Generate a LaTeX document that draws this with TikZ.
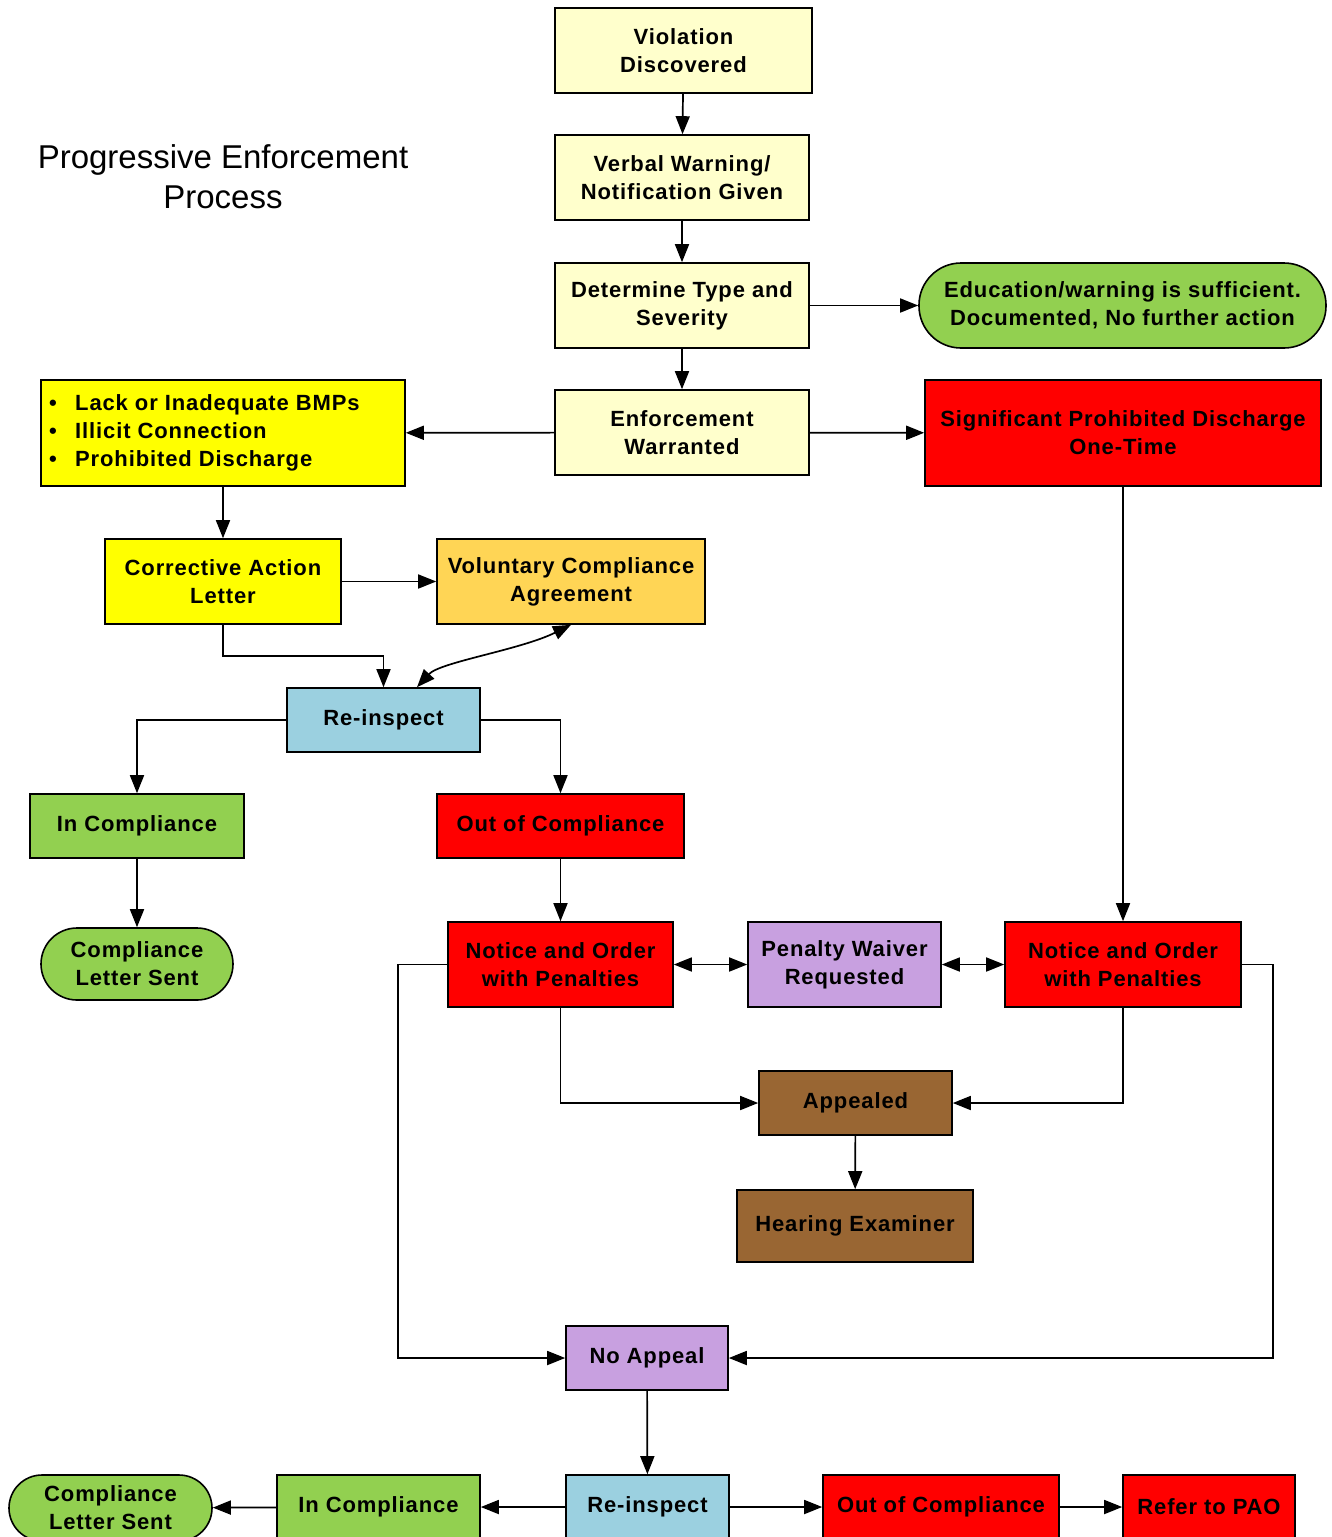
\documentclass[tikz,border=0pt]{standalone}
\usepackage{fontspec}
\setmainfont{Liberation Sans}
\usetikzlibrary{arrows.meta}
\definecolor{lyel}{HTML}{FFFFCC}
\definecolor{yel}{HTML}{FFFF00}
\definecolor{grn}{HTML}{92D050}
\definecolor{rd}{HTML}{FF0000}
\definecolor{org}{HTML}{FFD555}
\definecolor{blu}{HTML}{9BD0E0}
\definecolor{prp}{HTML}{C8A0E0}
\definecolor{brn}{HTML}{996633}
\newcommand\boxfont{\fontsize{22}{28}\selectfont\bfseries\addfontfeature{LetterSpace=4}}
\begin{document}
\begin{tikzpicture}[x=1pt,y=-1pt,
  box/.style={draw=black,line width=1.6pt,inner sep=0pt,align=center,font=\boxfont,text=black},
  stad/.style={box,rounded corners=#1},
  conn/.style={line width=1.7pt,draw=black},
  >={Triangle[length=18pt,width=14pt]}]
\clip (0,0) rectangle (1331,1537);
\useasboundingbox (0,0) rectangle (1331,1537);

\node[align=center,font=\fontsize{33}{40}\selectfont] (title) at (223,177) {Progressive Enforcement\\Process};

\node[box,fill=lyel,minimum width=257pt,minimum height=85pt] (v) at (683.5,50.5) {Violation\\Discovered};
\node[box,fill=lyel,minimum width=254pt,minimum height=85pt] (vw) at (682,177.5) {Verbal Warning/\\Notification Given};
\node[box,fill=lyel,minimum width=254pt,minimum height=85pt] (dt) at (682,305.5) {Determine Type and\\Severity};
\node[stad=42pt,fill=grn,minimum width=407pt,minimum height=85pt] (ed) at (1122.5,305.5) {Education/warning is sufficient.\\Documented, No further action};
\node[box,fill=lyel,minimum width=254pt,minimum height=85pt] (ew) at (682,432.5) {Enforcement\\Warranted};
\node[box,fill=yel,minimum width=364pt,minimum height=106pt] (lk) at (223,433) {};
\node[font=\boxfont,align=left,anchor=west,inner sep=0pt] (lkt) at (49,433) {\makebox[26pt][l]{•}Lack or Inadequate BMPs\\\makebox[26pt][l]{•}Illicit Connection\\\makebox[26pt][l]{•}Prohibited Discharge};
\node[box,fill=rd,minimum width=396pt,minimum height=106pt] (sg) at (1123,433) {Significant Prohibited Discharge\\One-Time};
\node[box,fill=yel,minimum width=236pt,minimum height=85pt] (ca) at (223,581.5) {Corrective Action\\Letter};
\node[box,fill=org,minimum width=268pt,minimum height=85pt] (vc) at (571,581.5) {Voluntary Compliance\\Agreement};
\node[box,fill=blu,minimum width=193pt,minimum height=64pt] (r1) at (383.5,720) {Re-inspect};
\node[box,fill=grn,minimum width=214pt,minimum height=64pt] (ic1) at (137,826) {In Compliance};
\node[box,fill=rd,minimum width=247pt,minimum height=64pt] (oc1) at (560.5,826) {Out of Compliance};
\node[stad=36pt,fill=grn,minimum width=192pt,minimum height=72pt] (cl1) at (137,964) {Compliance\\Letter Sent};
\node[box,fill=rd,minimum width=225pt,minimum height=85pt] (nl) at (560.5,964.5) {Notice and Order\\with Penalties};
\node[box,fill=prp,minimum width=193pt,minimum height=85pt] (pw) at (844.5,964.5) {Penalty Waiver\\Requested};
\node[box,fill=rd,minimum width=236pt,minimum height=85pt] (nr) at (1123,964.5) {Notice and Order\\with Penalties};
\node[box,fill=brn,minimum width=193pt,minimum height=64pt] (ap) at (855.5,1103) {Appealed};
\node[box,fill=brn,minimum width=236pt,minimum height=72pt] (he) at (855,1226) {Hearing Examiner};
\node[box,fill=prp,minimum width=162pt,minimum height=64pt] (na) at (647,1358) {No Appeal};
\node[box,fill=blu,minimum width=163pt,minimum height=64pt] (r2) at (647.5,1507) {Re-inspect};
\node[box,fill=grn,minimum width=203pt,minimum height=64pt] (ic2) at (378.5,1507) {In Compliance};
\node[stad=33pt,fill=grn,minimum width=203pt,minimum height=66pt] (cl2) at (110.5,1508) {Compliance\\Letter Sent};
\node[box,fill=rd,minimum width=236pt,minimum height=64pt] (oc2) at (941,1507) {Out of Compliance};
\node[box,fill=rd,minimum width=172pt,minimum height=64pt] (pa) at (1209,1507) {Refer to PAO};

\coordinate (k1) at (223,656);
\coordinate (k2) at (398,964.5);
\coordinate (k3) at (1273,964.5);

\draw[conn,->] (v) -- (vw);
\draw[conn,->] (vw) -- (dt);
\draw[conn,->] (dt) -- (ed);
\draw[conn,->] (dt) -- (ew);
\draw[conn,->] (ew) -- (lk);
\draw[conn,->] (ew) -- (sg);
\draw[conn,->] (lk) -- (ca);
\draw[conn,->] (ca) -- (vc);
\draw[conn,->] (ca.south) |- (k1) -| (r1.north);
\draw[conn,<->] (vc.south) .. controls (520,650) and (440,662) .. ([xshift=33.5pt]r1.north);
\draw[conn,->] (r1.west) -| (ic1.north);
\draw[conn,->] (r1.east) -| (oc1.north);
\draw[conn,->] (ic1) -- (cl1);
\draw[conn,->] (oc1) -- (nl);
\draw[conn,->] (sg) -- (nr);
\draw[conn,<->] (nl) -- (pw);
\draw[conn,<->] (pw) -- (nr);
\draw[conn,->] (nl.south) |- (ap.west);
\draw[conn,->] (nr.south) |- (ap.east);
\draw[conn,->] (ap) -- (he);
\draw[conn,->] (nl.west) -- (k2) |- (na.west);
\draw[conn,->] (nr.east) -- (k3) |- (na.east);
\draw[conn,->] (na) -- (r2);
\draw[conn,->] (r2) -- (ic2);
\draw[conn,->] (ic2) -- (cl2);
\draw[conn,->] (r2) -- (oc2);
\draw[conn,->] (oc2) -- (pa);
\end{tikzpicture}
\end{document}
